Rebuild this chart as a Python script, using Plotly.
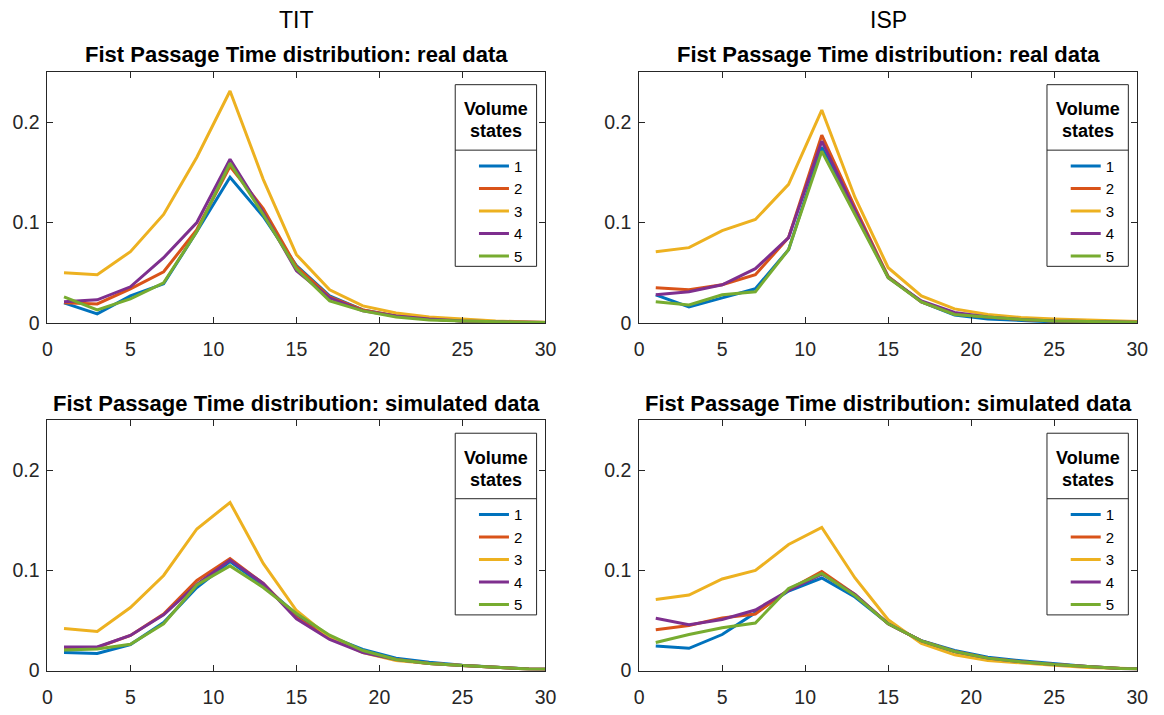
import plotly.graph_objects as go

# ---------------- data ----------------
x_vals = [1, 3, 5, 7, 9, 11, 13, 15, 17, 19, 21, 23, 25, 27, 29, 31]
state_names = ["1", "2", "3", "4", "5"]
colors = ["#0072BD", "#D95319", "#EDB120", "#7E2F8E", "#77AC30"]

tit_real_1 = [0.020, 0.009, 0.027, 0.039, 0.091, 0.145, 0.106, 0.057, 0.027, 0.013, 0.007, 0.004, 0.002, 0.001, 0.0006, 0.0003]
tit_real_2 = [0.020, 0.019, 0.034, 0.051, 0.093, 0.156, 0.114, 0.056, 0.026, 0.013, 0.007, 0.004, 0.002, 0.001, 0.0006, 0.0003]
tit_real_3 = [0.050, 0.048, 0.071, 0.108, 0.165, 0.231, 0.143, 0.068, 0.033, 0.017, 0.010, 0.006, 0.004, 0.002, 0.001, 0.0005]
tit_real_4 = [0.021, 0.023, 0.036, 0.065, 0.100, 0.163, 0.110, 0.052, 0.025, 0.012, 0.007, 0.004, 0.002, 0.001, 0.0006, 0.0003]
tit_real_5 = [0.026, 0.013, 0.024, 0.040, 0.091, 0.159, 0.108, 0.054, 0.022, 0.012, 0.006, 0.003, 0.002, 0.001, 0.0005, 0.0003]

isp_real_1 = [0.028, 0.016, 0.025, 0.034, 0.073, 0.175, 0.110, 0.046, 0.021, 0.008, 0.004, 0.0025, 0.001, 0.0008, 0.0005, 0.0003]
isp_real_2 = [0.035, 0.033, 0.038, 0.048, 0.085, 0.187, 0.115, 0.046, 0.021, 0.009, 0.006, 0.0035, 0.002, 0.0015, 0.001, 0.0005]
isp_real_3 = [0.071, 0.075, 0.092, 0.103, 0.138, 0.212, 0.125, 0.055, 0.027, 0.014, 0.0085, 0.0055, 0.004, 0.003, 0.0015, 0.001]
isp_real_4 = [0.028, 0.031, 0.038, 0.054, 0.085, 0.181, 0.112, 0.045, 0.022, 0.0105, 0.006, 0.0035, 0.002, 0.0015, 0.001, 0.0005]
isp_real_5 = [0.021, 0.018, 0.028, 0.031, 0.073, 0.171, 0.108, 0.045, 0.021, 0.0085, 0.006, 0.0035, 0.002, 0.0015, 0.001, 0.0005]

tit_sim_1 = [0.018, 0.017, 0.026, 0.048, 0.083, 0.109, 0.085, 0.056, 0.034, 0.021, 0.0124, 0.0083, 0.0052, 0.003, 0.0015, 0.001]
tit_sim_2 = [0.023, 0.023, 0.035, 0.0565, 0.090, 0.112, 0.087, 0.053, 0.032, 0.0186, 0.011, 0.007, 0.005, 0.003, 0.0015, 0.001]
tit_sim_3 = [0.042, 0.039, 0.063, 0.095, 0.1415, 0.168, 0.107, 0.060, 0.033, 0.018, 0.010, 0.007, 0.005, 0.003, 0.0015, 0.001]
tit_sim_4 = [0.0235, 0.0235, 0.035, 0.0557, 0.086, 0.1105, 0.087, 0.0517, 0.031, 0.018, 0.011, 0.007, 0.005, 0.003, 0.0015, 0.001]
tit_sim_5 = [0.0206, 0.0216, 0.0262, 0.0467, 0.0855, 0.1046, 0.083, 0.057, 0.0353, 0.020, 0.011, 0.007, 0.005, 0.003, 0.0015, 0.001]

isp_sim_1 = [0.0245, 0.0222, 0.036, 0.058, 0.0794, 0.0925, 0.0735, 0.047, 0.0297, 0.020, 0.0134, 0.0098, 0.0066, 0.004, 0.002, 0.0015]
isp_sim_2 = [0.0408, 0.045, 0.0526, 0.0565, 0.0806, 0.099, 0.076, 0.0467, 0.0297, 0.019, 0.0124, 0.0088, 0.006, 0.004, 0.002, 0.0015]
isp_sim_3 = [0.0709, 0.0755, 0.0915, 0.100, 0.126, 0.143, 0.0925, 0.0507, 0.027, 0.0157, 0.010, 0.0073, 0.0053, 0.003, 0.002, 0.0015]
isp_sim_4 = [0.0523, 0.0458, 0.051, 0.0605, 0.080, 0.0964, 0.076, 0.0467, 0.0297, 0.019, 0.0124, 0.0088, 0.006, 0.004, 0.002, 0.0015]
isp_sim_5 = [0.028, 0.036, 0.0428, 0.0474, 0.082, 0.097, 0.075, 0.0467, 0.0297, 0.019, 0.0124, 0.0088, 0.006, 0.004, 0.002, 0.0015]

x_ticks = [0, 5, 10, 15, 20, 25, 30]
y_ticks = [0, 0.1, 0.2]
y_tick_labels = ["0", "0.1", "0.2"]
column_titles = ["TIT", "ISP"]
title_real = "Fist Passage Time distribution: real data"
title_sim = "Fist Passage Time distribution: simulated data"
legend_title = ["Volume", "states"]

# ---------------- layout helpers ----------------
W, H = 1164, 715
FONT = "Liberation Sans, Arial, Helvetica, sans-serif"
AX = "#262626"


def px(x):
    return x / W


def py(y):
    return 1 - y / H


panels = [
    # (axis suffix, left, right, top, bottom, series, legend id)
    ("", 43, 548, 73, 328, [tit_real_1, tit_real_2, tit_real_3, tit_real_4, tit_real_5], "legend"),
    ("2", 643, 1148, 73, 328, [isp_real_1, isp_real_2, isp_real_3, isp_real_4, isp_real_5], "legend2"),
    ("3", 43, 548, 427, 681, [tit_sim_1, tit_sim_2, tit_sim_3, tit_sim_4, tit_sim_5], "legend3"),
    ("4", 643, 1148, 427, 681, [isp_sim_1, isp_sim_2, isp_sim_3, isp_sim_4, isp_sim_5], "legend4"),
]

fig = go.Figure()
layout = dict(
    width=W, height=H,
    margin=dict(l=0, r=0, t=0, b=0),
    paper_bgcolor="white", plot_bgcolor="white",
    font=dict(family=FONT, color=AX),
    showlegend=True,
)
shapes = []
annotations = []

for suffix, L, R, T, B, series, leg in panels:
    for name, ys, col in zip(state_names, series, colors):
        fig.add_trace(go.Scatter(
            x=x_vals, y=ys, mode="lines", name=name,
            line=dict(color=col, width=3),
            xaxis="x" + suffix, yaxis="y" + suffix,
            legend=leg, hoverinfo="skip",
        ))
    layout["xaxis" + suffix] = dict(
        domain=[px(L), px(R)], range=[0, 30], anchor="y" + suffix,
        tickvals=x_ticks, ticks="inside", ticklen=6, tickwidth=1, tickcolor=AX,
        showline=True, linecolor=AX, linewidth=1, mirror="ticks",
        showgrid=False, zeroline=False, ticklabelstandoff=9,
        tickfont=dict(family=FONT, size=19.5, color=AX),
    )
    layout["yaxis" + suffix] = dict(
        domain=[py(B), py(T)], range=[0, 0.25], anchor="x" + suffix,
        tickvals=y_ticks, ticktext=y_tick_labels,
        ticks="inside", ticklen=6, tickwidth=1, tickcolor=AX,
        showline=True, linecolor=AX, linewidth=1, mirror="ticks",
        showgrid=False, zeroline=False, ticklabelstandoff=3,
        tickfont=dict(family=FONT, size=19.5, color=AX),
    )
    # legend box (MATLAB style with title compartment)
    bl, br = R - 91.5, R - 9
    bt = T + 13
    bb = bt + 184.5
    sep = bt + 66.5
    shapes.append(dict(type="rect", xref="paper", yref="paper",
                       x0=px(bl), x1=px(br), y0=py(bb), y1=py(bt),
                       line=dict(color=AX, width=1), fillcolor="white", layer="below"))
    shapes.append(dict(type="line", xref="paper", yref="paper",
                       x0=px(bl), x1=px(br), y0=py(sep), y1=py(sep),
                       line=dict(color=AX, width=1), layer="below"))
    for i, t in enumerate(legend_title):
        annotations.append(dict(text="<b>%s</b>" % t, xref="paper", yref="paper",
                                x=px((bl + br) / 2), y=py(bt + 25 + 22.5 * i),
                                xanchor="center", yanchor="middle", showarrow=False,
                                font=dict(family=FONT, size=18, color="#000")))
    layout[leg] = dict(
        x=px(bl + 19), y=py(sep - 0.5), xanchor="left", yanchor="top",
        bgcolor="rgba(0,0,0,0)", borderwidth=0, tracegroupgap=0,
        font=dict(family=FONT, size=15, color="#000"),
    )

# column titles and subplot titles
for i, (L, R) in enumerate([(43, 548), (643, 1148)]):
    cx = px((L + R) / 2)
    annotations.append(dict(text=column_titles[i], xref="paper", yref="paper",
                            x=cx, y=py(20), xanchor="center", yanchor="middle",
                            showarrow=False, font=dict(family=FONT, size=23, color="#000")))
    annotations.append(dict(text="<b>%s</b>" % title_real, xref="paper", yref="paper",
                            x=cx, y=py(55), xanchor="center", yanchor="middle",
                            showarrow=False, font=dict(family=FONT, size=22, color="#000")))
    annotations.append(dict(text="<b>%s</b>" % title_sim, xref="paper", yref="paper",
                            x=cx, y=py(410), xanchor="center", yanchor="middle",
                            showarrow=False, font=dict(family=FONT, size=22, color="#000")))

layout["shapes"] = shapes
layout["annotations"] = annotations
fig.update_layout(**layout)

fig.write_html("out.html")
